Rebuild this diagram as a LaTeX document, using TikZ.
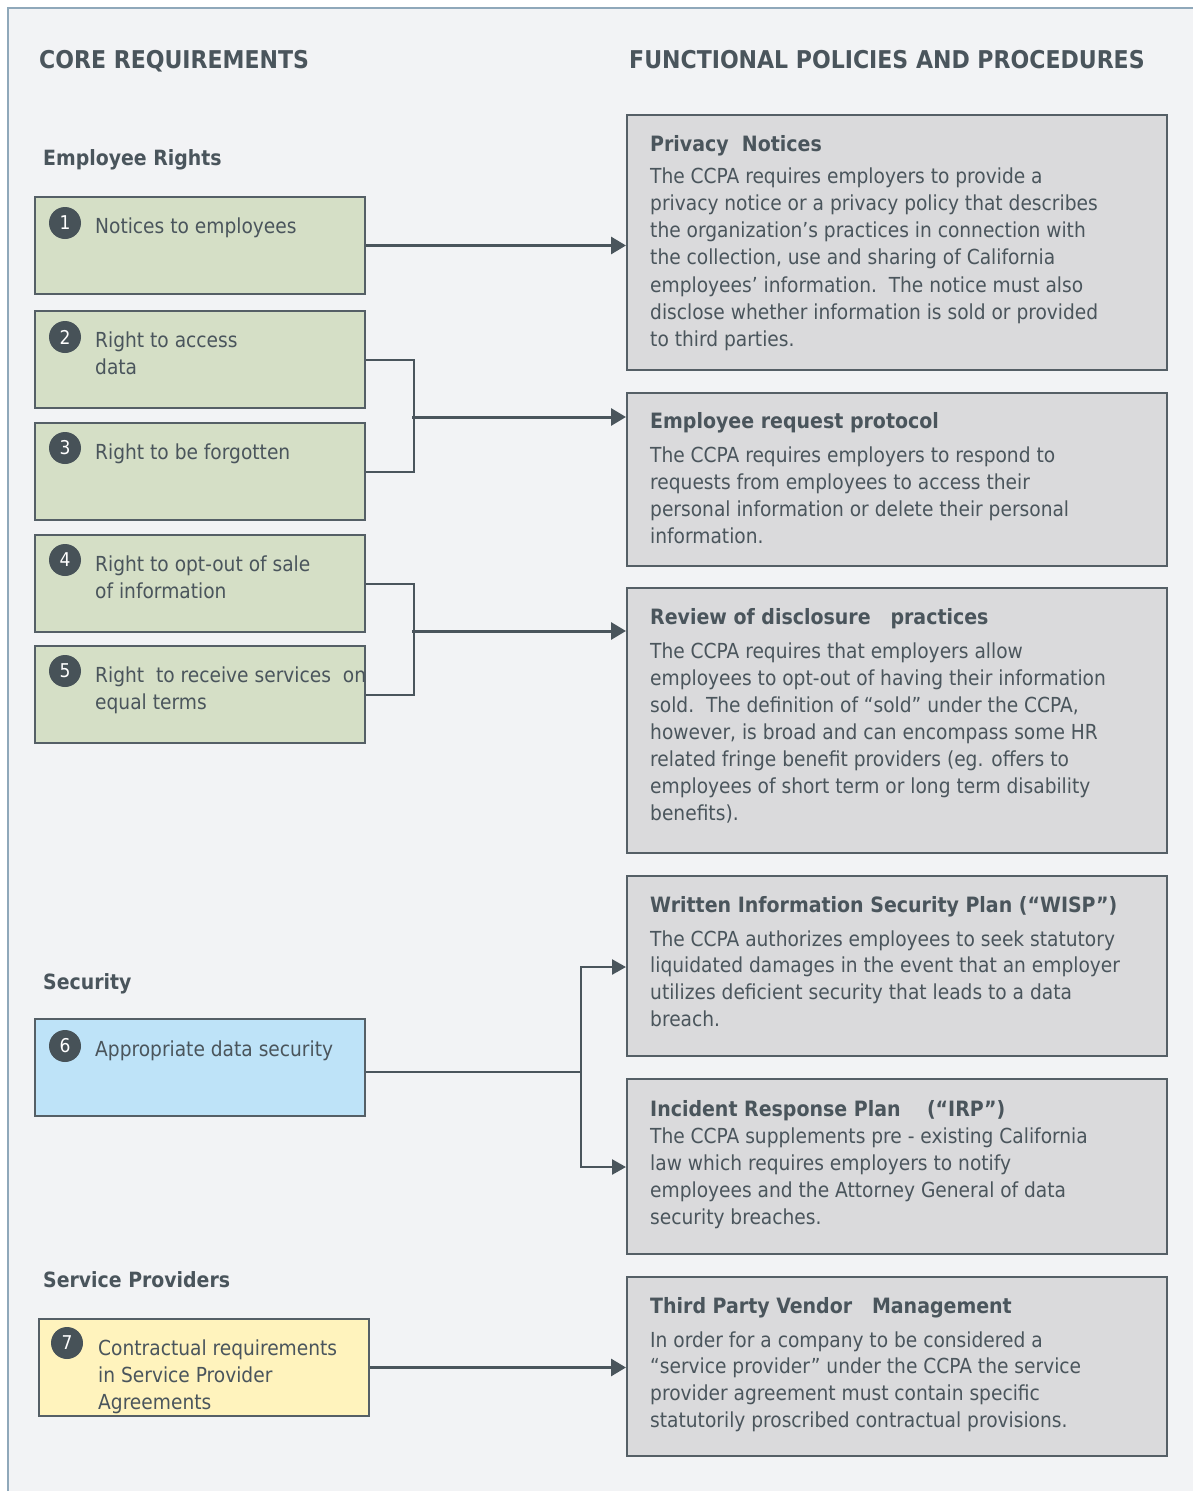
\documentclass[tikz,border=0pt]{standalone}
\usepackage{fontspec}
\setmainfont{DejaVu Sans Condensed}
\usetikzlibrary{arrows.meta}
\definecolor{bgc}{RGB}{242,243,245}
\definecolor{framec}{RGB}{143,168,186}
\definecolor{textc}{RGB}{74,85,92}
\definecolor{bordc}{RGB}{85,95,102}
\definecolor{linec}{RGB}{74,85,92}
\definecolor{numc}{RGB}{71,82,88}
\definecolor{greenc}{RGB}{213,223,198}
\definecolor{bluec}{RGB}{190,227,248}
\definecolor{yellowc}{RGB}{255,243,189}
\definecolor{grayc}{RGB}{218,218,220}
\newcommand{\bodyfnt}{\fontsize{20.7}{27}\selectfont}
\tikzset{
  lbox/.style={draw=bordc, line width=2pt, minimum width=330pt, minimum height=97pt, inner sep=0pt, anchor=north west},
  rbox/.style={draw=bordc, fill=grayc, line width=2pt, minimum width=540pt, inner sep=0pt, anchor=north west},
  num/.style={circle, fill=numc, text=white, minimum size=32pt, inner sep=0pt, font=\fontsize{19}{19}\selectfont},
  bodytxt/.style={anchor=base west, inner sep=0pt, text=textc, font=\bodyfnt},
  headtxt/.style={anchor=base west, inner sep=0pt, text=textc, font=\fontsize{21.1}{27}\selectfont\bfseries},
  toptxt/.style={anchor=base west, inner sep=0pt, text=textc, font=\fontsize{24.5}{28}\selectfont\bfseries},
  sectxt/.style={anchor=base west, inner sep=0pt, text=textc, font=\fontsize{21}{26}\selectfont\bfseries},
  link/.style={draw=linec, line width=3pt, -{Triangle[length=15pt,width=17pt]}},
  link2/.style={draw=linec, line width=2.5pt, -{Triangle[length=14pt,width=15pt]}},
  brk/.style={draw=linec, line width=2pt},
}
\begin{document}
\begin{tikzpicture}[x=1pt,y=-1pt]
\useasboundingbox (0,0) rectangle (1193,1491);
\fill[white] (0,0) rectangle (1193,1491);
\fill[bgc] (8,8) rectangle (1193,1491);
\draw[framec, line width=2.5pt] (8,1491) -- (8,8) -- (1193,8);

% column headers
\node[toptxt] (hcore) at (39,68) {CORE REQUIREMENTS};
\node[toptxt] (hfunc) at (629,68) {FUNCTIONAL POLICIES AND PROCEDURES};
\node[sectxt] (hemp) at (43,165) {Employee Rights};
\node[sectxt] (hsec) at (43,989) {Security};
\node[sectxt] (hsp) at (43,1287) {Service Providers};

% left boxes
\node[lbox, fill=greenc] (l1) at (34,196) {};
\node[lbox, fill=greenc] (l2) at (34,310) {};
\node[lbox, fill=greenc] (l3) at (34,422) {};
\node[lbox, fill=greenc] (l4) at (34,534) {};
\node[lbox, fill=greenc] (l5) at (34,645) {};
\node[lbox, fill=bluec] (l6) at (34,1018) {};
\node[lbox, fill=yellowc] (l7) at (38,1318) {};

\node[num] (n1) at (65,223) {1};
\node[num] (n2) at (65,337) {2};
\node[num] (n3) at (65,448) {3};
\node[num] (n4) at (65,560) {4};
\node[num] (n5) at (65,671) {5};
\node[num] (n6) at (65,1046) {6};
\node[num] (n7) at (67,1343) {7};

\node[bodytxt] (t1) at (95,233) {Notices to employees};
\node[bodytxt] (t2a) at (95,347) {Right to access};
\node[bodytxt] (t2b) at (95,374) {data};
\node[bodytxt] (t3) at (95,459) {Right to be forgotten};
\node[bodytxt] (t4a) at (95,571) {Right to opt-out of sale};
\node[bodytxt] (t4b) at (95,598) {of information};
\node[bodytxt] (t5a) at (95,682) {Right\ \ to receive services\ \ on};
\node[bodytxt] (t5b) at (95,709) {equal terms};
\node[bodytxt] (t6) at (95,1056) {Appropriate data security};
\node[bodytxt] (t7a) at (98,1355) {Contractual requirements};
\node[bodytxt] (t7b) at (98,1382) {in Service Provider};
\node[bodytxt] (t7c) at (98,1409) {Agreements};

% right boxes
\node[rbox, minimum height=255pt] (r1) at (626,114) {};
\node[rbox, minimum height=173pt] (r2) at (626,392) {};
\node[rbox, minimum height=265pt] (r3) at (626,587) {};
\node[rbox, minimum height=180pt] (r4) at (626,875) {};
\node[rbox, minimum height=175pt] (r5) at (626,1078) {};
\node[rbox, minimum height=179pt] (r6) at (626,1276) {};

\node[headtxt] (h1) at (650,151) {Privacy\ \ Notices};
\foreach \t [count=\i from 0] in {
  {The CCPA requires employers to provide a},
  {privacy notice or a privacy policy that describes},
  {the organization’s practices in connection with},
  {the collection, use and sharing of California},
  {employees’ information.\ \ The notice must also},
  {disclose whether information is sold or provided},
  {to third parties.}}
  \node[bodytxt] (b1\i) at (650,183+27.3*\i) {\t};

\node[headtxt] (h2) at (650,428) {Employee request protocol};
\foreach \t [count=\i from 0] in {
  {The CCPA requires employers to respond to},
  {requests from employees to access their},
  {personal information or delete their personal},
  {information.}}
  \node[bodytxt] (b2\i) at (650,462+27*\i) {\t};

\node[headtxt] (h3) at (650,624) {Review of disclosure\ \ \ practices};
\foreach \t [count=\i from 0] in {
  {The CCPA requires that employers allow},
  {employees to opt-out of having their information},
  {sold.\ \ The definition of “sold” under the CCPA,},
  {however, is broad and can encompass some HR},
  {related fringe benefit providers (eg. offers to},
  {employees of short term or long term disability},
  {benefits).}}
  \node[bodytxt] (b3\i) at (650,658+27*\i) {\t};

\node[headtxt] (h4) at (650,912) {Written Information Security Plan (“WISP”)};
\foreach \t [count=\i from 0] in {
  {The CCPA authorizes employees to seek statutory},
  {liquidated damages in the event that an employer},
  {utilizes deficient security that leads to a data},
  {breach.}}
  \node[bodytxt] (b4\i) at (650,946+26.8*\i) {\t};

\node[headtxt] (h5) at (650,1116) {Incident Response Plan\ \ \ \ (“IRP”)};
\foreach \t [count=\i from 0] in {
  {The CCPA supplements pre - existing California},
  {law which requires employers to notify},
  {employees and the Attorney General of data},
  {security breaches.}}
  \node[bodytxt] (b5\i) at (650,1143+27.3*\i) {\t};

\node[headtxt] (h6) at (650,1313) {Third Party Vendor\ \ \ Management};
\foreach \t [count=\i from 0] in {
  {In order for a company to be considered a},
  {“service provider” under the CCPA the service},
  {provider agreement must contain specific},
  {statutorily proscribed contractual provisions.}}
  \node[bodytxt] (b6\i) at (650,1347+26.8*\i) {\t};

% connectors
\draw[link] (l1.east) -- (l1.east -| r1.west);

\draw[brk] (l2.east) -- ++(48,0) |- (l3.east);
\coordinate (j1) at (412,417);
\draw[link] (j1) -- (j1 -| r2.west);

\draw[brk] (l4.east) -- ++(48,0) |- (l5.east);
\coordinate (j2) at (412,631);
\draw[link] (j2) -- (j2 -| r3.west);

\coordinate (j3) at (581,1072);
\coordinate (j4) at (581,967);
\coordinate (j5) at (581,1167);
\draw[brk] (l6.east |- j3) -- (j3);
\draw[link2] (j3) -- (j4) -- (j4 -| r4.west);
\draw[link2] (j3) -- (j5) -- (j5 -| r5.west);

\draw[link] (l7.east) -- (l7.east -| r6.west);
\end{tikzpicture}
\end{document}
